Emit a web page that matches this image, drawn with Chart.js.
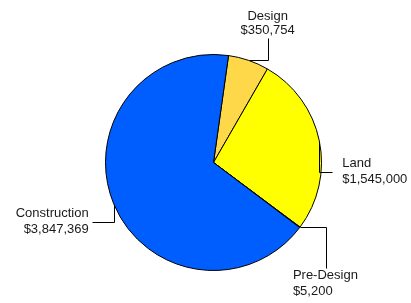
<!DOCTYPE html>
<html>
<head>
<meta charset="utf-8">
<script src="https://cdn.jsdelivr.net/npm/chart.js@4.4.0/dist/chart.umd.min.js"></script>
<style>
  html, body { margin: 0; padding: 0; background: #fff; }
  #wrap { width: 411px; height: 303px; }
</style>
</head>
<body>
<div id="wrap"><canvas id="grafico"></canvas></div>
<script>
// Datos del gráfico (orden horario desde arriba)
const categorias = ['Design', 'Land', 'Pre-Design', 'Construction']
const montos = [350754, 1545000, 5200, 3847369]
const colores = ['#FFD84A', '#FFFF00', '#FFE030', '#005EFF']

// Forma de cada línea guía: tramos relativos desde el borde del sector y ubicación del texto
const guias = {
  'Design':       { tramos: [[19, 0], [0, -22]], texto: 'center', dx: 0, dy: -8 },
  'Land':         { tramos: [[0, 31], [13, 0]], texto: 'left', dx: 10, dy: -8 },
  'Pre-Design':   { tramos: [[26, 0], [0, 41]], texto: 'left', dx: -33, dy: 7 },
  'Construction': { tramos: [[0, 18], [-22, 0]], texto: 'right', dx: -3, dy: -8 }
}

function formatearMonto(v) {
  return '$' + v.toLocaleString('en-US')
}

// Plugin: etiquetas con línea guía en codo
const etiquetasGuia = {
  id: 'etiquetasGuia',
  afterDraw(chart) {
    const ctx = chart.ctx
    const meta = chart.getDatasetMeta(0)
    ctx.save()
    ctx.font = "13px 'Liberation Sans', Arial, sans-serif"
    ctx.fillStyle = '#1a1a1a'
    ctx.strokeStyle = '#000'
    ctx.lineWidth = 1
    meta.data.forEach((arco, i) => {
      const { x, y, startAngle, endAngle, outerRadius } = arco.getProps(['x', 'y', 'startAngle', 'endAngle', 'outerRadius'], true)
      const medio = (startAngle + endAngle) / 2
      let px = x + Math.cos(medio) * outerRadius
      let py = y + Math.sin(medio) * outerRadius
      const g = guias[categorias[i]]
      ctx.beginPath()
      ctx.moveTo(Math.round(px) + 0.5, Math.round(py) + 0.5)
      g.tramos.forEach(([dx, dy]) => {
        px += dx
        py += dy
        ctx.lineTo(Math.round(px) + 0.5, Math.round(py) + 0.5)
      })
      ctx.stroke()
      ctx.textAlign = g.texto
      ctx.textBaseline = 'middle'
      const tx = px + g.dx
      const ty = py + g.dy
      if (g.texto === 'center') {
        ctx.fillText(categorias[i], tx, ty - 14)
        ctx.fillText(formatearMonto(montos[i]), tx, ty)
      } else {
        ctx.fillText(categorias[i], tx, ty)
        ctx.fillText(formatearMonto(montos[i]), tx, ty + 16)
      }
    })
    ctx.restore()
  }
}

new Chart(document.getElementById('grafico'), {
  type: 'pie',
  data: {
    labels: categorias,
    datasets: [{
      data: montos,
      backgroundColor: colores,
      borderColor: '#000',
      borderWidth: 1
    }]
  },
  options: {
    responsive: true,
    maintainAspectRatio: false,
    animation: false,
    rotation: 8,
    layout: { padding: { top: 54, bottom: 32, left: 16, right: 0 } },
    plugins: {
      legend: { display: false },
      tooltip: { enabled: false }
    }
  },
  plugins: [etiquetasGuia]
})
</script>
</body>
</html>
